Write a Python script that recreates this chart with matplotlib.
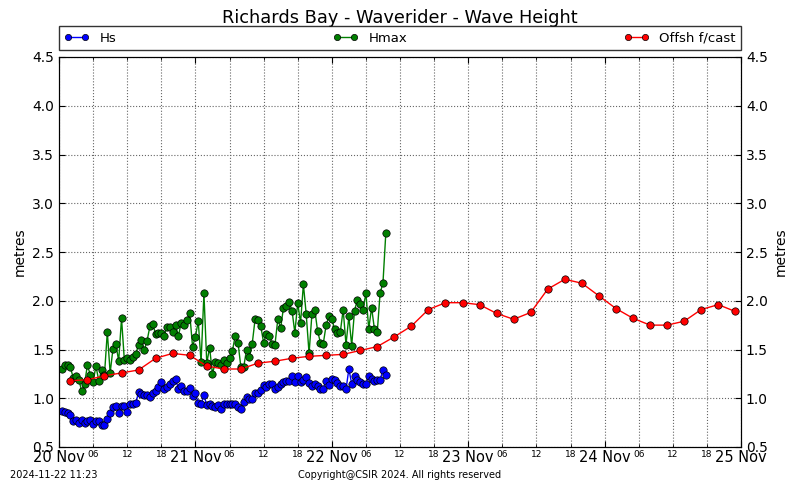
import matplotlib
matplotlib.use("Agg")
import matplotlib.pyplot as plt
import numpy as np
from matplotlib.ticker import FixedLocator, FixedFormatter

# ---- data (hours since 20 Nov 00:00) ----
obs_step = 0.5
hs = [0.87, 0.86, 0.85, 0.83, 0.77, 0.78, 0.75, 0.78, 0.75, 0.77,
      0.78, 0.74, 0.77, 0.77, 0.73, 0.73, 0.79, 0.85, 0.91, 0.92,
      0.85, 0.92, 0.92, 0.86, 0.94, 0.94, 0.95, 1.06, 1.04, 1.03,
      1.03, 1.01, 1.05, 1.07, 1.12, 1.17, 1.10, 1.12, 1.15, 1.18,
      1.20, 1.10, 1.13, 1.07, 1.07, 1.11, 1.02, 1.05, 0.95, 0.94,
      1.03, 0.93, 0.94, 0.92, 0.91, 0.93, 0.89, 0.94, 0.94, 0.94,
      0.94, 0.94, 0.91, 0.89, 0.96, 1.01, 0.99, 0.99, 1.05, 1.05,
      1.08, 1.14, 1.12, 1.15, 1.15, 1.10, 1.12, 1.15, 1.17, 1.18,
      1.18, 1.23, 1.17, 1.23, 1.17, 1.19, 1.22, 1.16, 1.13, 1.15,
      1.13, 1.10, 1.10, 1.18, 1.14, 1.20, 1.19, 1.16, 1.13, 1.13,
      1.09, 1.30, 1.15, 1.23, 1.19, 1.17, 1.15, 1.15, 1.23, 1.20,
      1.18, 1.19, 1.19, 1.29, 1.24]
hmax = [1.30, 1.34, 1.34, 1.32, 1.21, 1.23, 1.19, 1.07, 1.15, 1.34,
        1.24, 1.17, 1.33, 1.18, 1.29, 1.24, 1.68, 1.26, 1.51, 1.56,
        1.38, 1.82, 1.39, 1.41, 1.39, 1.42, 1.45, 1.55, 1.60, 1.49,
        1.59, 1.74, 1.76, 1.66, 1.67, 1.67, 1.64, 1.73, 1.73, 1.68,
        1.75, 1.64, 1.77, 1.75, 1.80, 1.87, 1.53, 1.63, 1.79, 1.37,
        2.08, 1.36, 1.52, 1.25, 1.37, 1.36, 1.34, 1.39, 1.36, 1.41,
        1.48, 1.64, 1.57, 1.32, 1.32, 1.50, 1.42, 1.56, 1.81, 1.80,
        1.74, 1.57, 1.66, 1.64, 1.56, 1.55, 1.81, 1.72, 1.93, 1.95,
        1.99, 1.90, 1.67, 1.98, 1.77, 2.17, 1.86, 1.46, 1.86, 1.91,
        1.69, 1.57, 1.56, 1.75, 1.84, 1.81, 1.71, 1.67, 1.68, 1.91,
        1.55, 1.84, 1.54, 1.90, 2.01, 1.97, 1.91, 2.08, 1.71, 1.93,
        1.71, 1.68, 2.08, 2.18, 2.69]
fc_start, fc_step = 2, 3
fcast = [1.18, 1.19, 1.23, 1.26, 1.29, 1.41, 1.46, 1.44, 1.33, 1.30,
         1.30, 1.36, 1.38, 1.41, 1.43, 1.44, 1.45, 1.49, 1.53, 1.63,
         1.74, 1.91, 1.98, 1.98, 1.96, 1.87, 1.81, 1.88, 2.12, 2.22,
         2.18, 2.05, 1.92, 1.82, 1.75, 1.75, 1.79, 1.91, 1.96, 1.89]
day_labels = ["20 Nov", "21 Nov", "22 Nov", "23 Nov", "24 Nov", "25 Nov"]
hour_labels = ["06", "12", "18"]
yticks = [0.5, 1.0, 1.5, 2.0, 2.5, 3.0, 3.5, 4.0, 4.5]

t_obs = obs_step * np.arange(1, len(hs) + 1)
t_fc = fc_start + fc_step * np.arange(len(fcast))

fig = plt.figure(figsize=(8, 4.8), dpi=100)
ax = fig.add_axes([0.07375, 0.06875, 0.8525, 0.8125])

mk = dict(marker='o', markersize=5.3, markeredgecolor='black', markeredgewidth=0.5, linewidth=1.0)
l1, = ax.plot(t_obs, hs, color='#0000ff', label='Hs', zorder=3, **mk)
l2, = ax.plot(t_obs, hmax, color='#007f00', label='Hmax', zorder=3, **mk)
l3, = ax.plot(t_fc, fcast, color='#ff0000', label='Offsh f/cast', zorder=3, **mk)

ax.set_xlim(0, 120)
ax.set_ylim(0.5, 4.5)
major = [24 * i for i in range(len(day_labels))]
minor = [24 * d + h for d in range(5) for h in (6, 12, 18)]
ax.xaxis.set_major_locator(FixedLocator(major))
ax.xaxis.set_major_formatter(FixedFormatter(day_labels))
ax.xaxis.set_minor_locator(FixedLocator(minor))
ax.xaxis.set_minor_formatter(FixedFormatter(hour_labels * 5))
ax.tick_params(axis='x', which='major', labelsize=10.5, pad=2, direction='in', length=4, top=True)
ax.tick_params(axis='x', which='minor', labelsize=6.5, pad=2, direction='in', length=2, top=True)
ax.set_yticks(yticks)
ax.set_yticklabels([f"{v:.1f}" for v in yticks])
ax.tick_params(axis='y', labelsize=10, direction='in', length=4)
ax.set_ylabel("metres", fontsize=10)
ax.grid(True, which='both', axis='x', linestyle=':', color='#666666', linewidth=0.8)
ax.grid(True, which='major', axis='y', linestyle=':', color='#666666', linewidth=0.8)

ax2 = ax.twinx()
ax2.set_ylim(0.5, 4.5)
ax2.set_yticks(yticks)
ax2.set_yticklabels([f"{v:.1f}" for v in yticks])
ax2.tick_params(axis='y', labelsize=10, direction='in', length=4)
ax2.set_ylabel("metres", fontsize=10)

fig.suptitle("Richards Bay - Waverider - Wave Height", fontsize=12.8, y=0.9625, va='center')
leg = fig.legend(handles=[l1, l2, l3], loc='lower left',
                 bbox_to_anchor=(0.07375, 0.8958, 0.8525, 0.05), mode='expand',
                 ncol=3, borderaxespad=0, fancybox=False, numpoints=2,
                 fontsize=9.5, handlelength=1.9, markerscale=0.85, edgecolor='black')
leg.get_frame().set_linewidth(1.0)

fig.text(0.0125, 0.0, "2024-11-22 11:23", fontsize=7, ha='left', va='bottom')
fig.text(0.5, 0.0, "Copyright@CSIR 2024. All rights reserved", fontsize=7, ha='center', va='bottom')

fig.savefig("out.png", dpi=100)
